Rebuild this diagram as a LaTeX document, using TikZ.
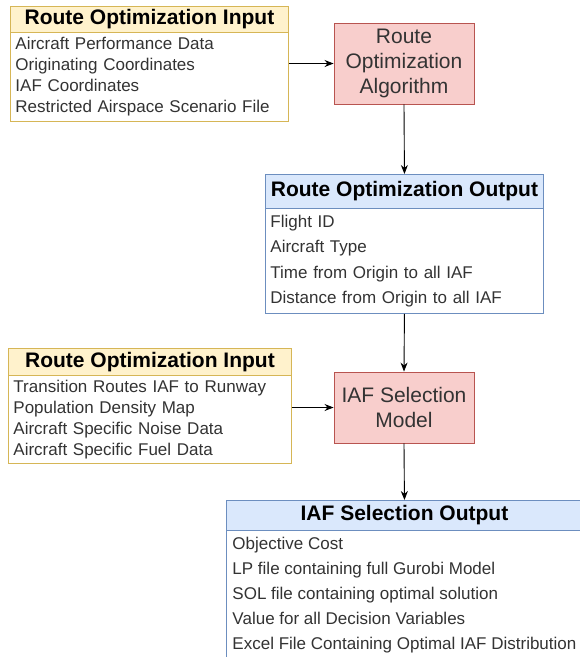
\documentclass[tikz,border=0pt]{standalone}
\usepackage{fontspec}
\setmainfont{Liberation Sans}
\usetikzlibrary{positioning,arrows.meta}

\definecolor{infill}{HTML}{FFF2CC}
\definecolor{inline}{HTML}{D6B656}
\definecolor{algfill}{HTML}{F8CECC}
\definecolor{algline}{HTML}{B85450}
\definecolor{outfill}{HTML}{DAE8FC}
\definecolor{outline}{HTML}{6C8EBF}
\definecolor{txt}{HTML}{333333}

\tikzset{
  head/.style={rectangle, anchor=north west, inner sep=0pt,
    font=\fontsize{21}{24}\selectfont\bfseries},
  listbox/.style={rectangle, anchor=north west, fill=white, inner xsep=5pt,
    inner ysep=0pt, align=left, text=txt},
  procbox/.style={rectangle, draw=algline, fill=algfill, line width=0.9pt,
    minimum width=140pt, align=center, text=txt,
    font=\fontsize{21}{25}\selectfont},
  arrow/.style={-{Stealth[length=9pt,width=7pt]}, line width=0.9pt}
}

\begin{document}
\begin{tikzpicture}[x=1pt,y=-1pt]
  \useasboundingbox (0,0) rectangle (580,657);
  \clip (0,0) rectangle (580,657);

  % first input
  \node[head, draw=inline, fill=infill, line width=0.9pt,
    minimum width=278pt, minimum height=26pt] (inhead1) at (10,6)
    {Route Optimization Input};
  \node[listbox, draw=inline, line width=0.9pt, minimum width=278pt,
    minimum height=89pt, text width=268pt,
    font=\fontsize{17}{21}\selectfont] (inbody1) at (10,32)
    {Aircraft Performance Data\\Originating Coordinates\\IAF Coordinates\\
     Restricted Airspace Scenario File};

  \node[procbox, minimum height=81pt] (algo) at (404,63.5)
    {Route\\Optimization\\Algorithm};

  % first output
  \node[head, draw=outline, fill=outfill, line width=0.9pt,
    minimum width=278pt, minimum height=34pt] (outhead1) at (265,174)
    {Route Optimization Output};
  \node[listbox, draw=outline, line width=0.9pt, minimum width=278pt,
    minimum height=105pt, text width=268pt,
    font=\fontsize{17}{25.5}\selectfont] (outbody1) at (265,208)
    {Flight ID\\Aircraft Type\\Time from Origin to all IAF\\
     Distance from Origin to all IAF};

  % second input
  \node[head, draw=inline, fill=infill, line width=0.9pt,
    minimum width=283pt, minimum height=27pt] (inhead2) at (8,348)
    {Route Optimization Input};
  \node[listbox, draw=inline, line width=0.9pt, minimum width=283pt,
    minimum height=88pt, text width=273pt,
    font=\fontsize{17}{21}\selectfont] (inbody2) at (8,375)
    {Transition Routes IAF to Runway\\Population Density Map\\
     Aircraft Specific Noise Data\\Aircraft Specific Fuel Data};

  \node[procbox, minimum height=71pt] (iaf) at (404,407.5)
    {IAF Selection\\Model};

  % second output (runs past the page edge)
  \node[head, draw=outline, fill=outfill, line width=0.9pt,
    minimum width=356pt, minimum height=30pt] (outhead2) at (226,500)
    {IAF Selection Output};
  \node[listbox, draw=outline, line width=0.9pt, minimum width=356pt,
    minimum height=130pt,
    font=\fontsize{17}{25}\selectfont] (outbody2) at (226,530)
    {Objective Cost\\LP file containing full Gurobi Model\\
     SOL file containing optimal solution\\Value for all Decision Variables\\
     Excel File Containing Optimal IAF Distribution};

  \draw[arrow] (algo.west -| inbody1.east) -- (algo.west);
  \draw[arrow] (algo.south) -- (outhead1.north);
  \draw[arrow] (outbody1.south) -- (iaf.north);
  \draw[arrow] (iaf.west -| inbody2.east) -- (iaf.west);
  \draw[arrow] (iaf.south) -- (outhead2.north);
\end{tikzpicture}
\end{document}
